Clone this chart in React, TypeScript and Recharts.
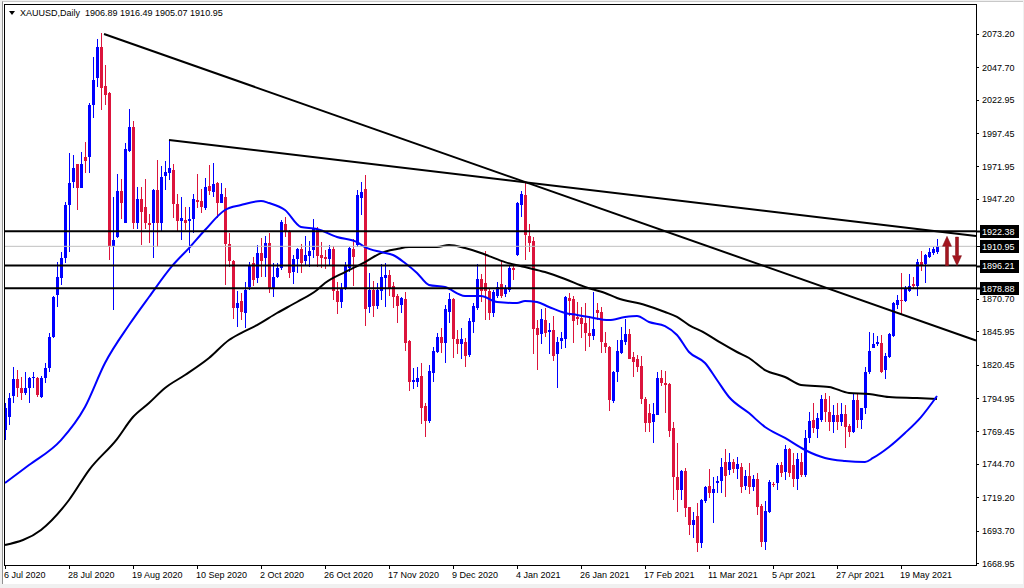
import {
  Bar,
  ComposedChart,
  Line,
  ReferenceLine,
  XAxis,
  YAxis,
} from 'recharts';

const BULL = '#0000ff';
const BEAR = '#dc143c';
const FONT = '"Liberation Sans", Arial, sans-serif';

// daily candles, bar 0 = 6 Jul 2020
const opens = [
  1770.6, 1780.8, 1796.6, 1809.3, 1802.5, 1798.6, 1802.5, 1810.1, 1810.1, 1796.1,
  1810.1, 1817.7, 1842.0, 1873.8, 1886.5, 1901.8, 1942.5, 1960.4, 1973.6, 1955.8,
  1979.5, 1979.5, 2019.0, 2039.3, 2063.5, 2033.5, 2028.4, 1911.2, 1917.8, 1953.2,
  1929.0, 1984.1, 2001.9, 1929.0, 1947.1, 1940.8, 1929.0, 1929.0, 1954.0, 1929.0,
  1965.0, 1967.2, 1969.3, 1943.1, 1930.3, 1931.1, 1930.3, 1931.6, 1946.4, 1945.9,
  1940.5, 1957.0, 1952.7, 1959.1, 1944.3, 1948.9, 1912.5, 1899.7, 1863.6, 1869.2,
  1860.3, 1880.1, 1897.9, 1886.5, 1905.6, 1901.8, 1913.2, 1878.9, 1887.8, 1894.1,
  1927.8, 1922.7, 1891.6, 1901.3, 1908.9, 1899.7, 1903.6, 1908.1, 1924.2, 1904.3,
  1903.0, 1901.3, 1908.6, 1877.1, 1868.2, 1879.4, 1894.6, 1908.9, 1912.0, 1948.1,
  1954.7, 1864.3, 1877.6, 1865.3, 1876.8, 1887.0, 1889.0, 1880.6, 1873.2, 1866.1,
  1870.4, 1838.6, 1807.5, 1807.5, 1811.9, 1789.0, 1777.7, 1814.4, 1829.9, 1841.4,
  1837.3, 1861.0, 1870.4, 1840.1, 1836.3, 1837.6, 1827.9, 1853.4, 1863.6, 1885.7,
  1882.7, 1877.1, 1859.8, 1873.0, 1881.9, 1874.5, 1877.6, 1894.6, 1904.3, 1942.5,
  1950.2, 1918.8, 1915.3, 1848.3, 1843.9, 1854.7, 1845.7, 1847.0, 1828.7, 1838.9,
  1840.1, 1871.2, 1870.7, 1857.2, 1856.4, 1852.1, 1845.0, 1842.7, 1862.3, 1860.5,
  1837.3, 1834.3, 1793.0, 1815.2, 1829.2, 1838.1, 1843.9, 1826.1, 1824.9, 1819.5,
  1794.3, 1783.3, 1776.5, 1782.1, 1810.6, 1806.8, 1805.5, 1771.9, 1734.4, 1724.7,
  1739.3, 1711.5, 1698.0, 1704.9, 1684.0, 1716.4, 1727.8, 1722.7, 1729.9, 1731.9,
  1746.4, 1740.0, 1746.4, 1741.0, 1742.6, 1727.8, 1735.5, 1727.3, 1732.9, 1712.5,
  1685.3, 1708.2, 1729.1, 1729.8, 1743.8, 1738.8, 1755.8, 1743.8, 1732.9, 1746.4,
  1736.2, 1764.2, 1778.3, 1771.1, 1778.3, 1794.0, 1784.4, 1776.9, 1782.1, 1776.9,
  1782.8, 1773.7, 1769.3, 1793.5, 1778.3, 1787.2, 1815.2, 1833.5, 1836.3, 1836.8,
  1816.5, 1826.6, 1842.4, 1866.1, 1869.9, 1869.4, 1877.1, 1882.2, 1880.9, 1899.2,
  1897.5, 1903.0, 1906.1, 1906.89,
];

const highs = [
  1791.0, 1798.6, 1819.0, 1816.5, 1811.4, 1815.2, 1811.4, 1815.2, 1811.4, 1812.0,
  1821.6, 1844.5, 1873.0, 1899.2, 1906.9, 1945.1, 1982.0, 1980.8, 1974.0, 1983.3,
  1991.0, 2020.2, 2055.9, 2069.1, 2074.2, 2049.5, 2029.1, 1948.9, 1966.2, 1962.4,
  1989.7, 2015.6, 2007.0, 1956.5, 1956.5, 1962.4, 1935.4, 1954.5, 1976.9, 1972.3,
  1976.4, 1992.2, 1973.6, 1950.7, 1948.9, 1941.3, 1940.8, 1951.0, 1966.2, 1954.5,
  1962.9, 1973.1, 1974.4, 1960.4, 1959.1, 1955.8, 1920.9, 1900.5, 1877.1, 1875.0,
  1883.9, 1899.2, 1902.6, 1912.0, 1917.1, 1918.8, 1920.9, 1897.9, 1898.5, 1931.1,
  1933.6, 1923.4, 1904.3, 1909.9, 1912.7, 1918.8, 1915.3, 1931.8, 1926.0, 1914.5,
  1908.1, 1912.0, 1911.2, 1883.9, 1882.7, 1899.2, 1910.7, 1916.3, 1954.0, 1959.8,
  1965.4, 1890.3, 1884.5, 1882.7, 1897.2, 1898.5, 1892.9, 1883.9, 1874.5, 1872.5,
  1876.3, 1839.4, 1817.7, 1819.0, 1821.5, 1791.0, 1820.3, 1834.3, 1844.9, 1848.3,
  1866.1, 1875.5, 1871.2, 1847.0, 1848.3, 1840.6, 1856.0, 1867.9, 1897.2, 1889.8,
  1907.6, 1878.8, 1877.6, 1883.4, 1900.5, 1881.4, 1896.7, 1896.7, 1945.1, 1953.5,
  1960.4, 1928.0, 1917.8, 1854.7, 1862.8, 1863.8, 1852.1, 1857.7, 1841.9, 1845.2,
  1873.0, 1875.0, 1873.2, 1868.2, 1864.3, 1867.9, 1857.7, 1875.8, 1867.4, 1864.8,
  1845.2, 1835.0, 1816.0, 1839.4, 1849.6, 1855.4, 1847.5, 1830.5, 1827.9, 1827.4,
  1796.1, 1790.5, 1791.0, 1815.2, 1816.5, 1815.7, 1806.3, 1776.5, 1760.4, 1740.0,
  1741.3, 1712.0, 1708.2, 1714.6, 1717.6, 1727.8, 1740.5, 1734.9, 1735.4, 1748.9,
  1755.8, 1752.8, 1748.2, 1750.0, 1745.6, 1740.0, 1745.6, 1736.0, 1737.5, 1714.0,
  1716.6, 1732.4, 1731.1, 1745.6, 1746.4, 1759.1, 1756.6, 1752.8, 1752.8, 1752.8,
  1770.6, 1784.6, 1791.0, 1783.3, 1797.3, 1798.6, 1796.6, 1789.7, 1791.0, 1791.0,
  1789.7, 1775.2, 1799.1, 1798.6, 1787.7, 1819.0, 1845.7, 1844.5, 1842.4, 1843.2,
  1829.7, 1844.5, 1868.7, 1873.8, 1890.8, 1880.6, 1889.8, 1887.3, 1901.0, 1907.6,
  1904.8, 1909.4, 1910.2, 1916.49,
];

const lows = [
  1763.0, 1774.4, 1791.0, 1796.1, 1793.5, 1797.4, 1791.0, 1802.5, 1796.1, 1795.0,
  1806.3, 1815.2, 1841.0, 1864.8, 1881.4, 1898.0, 1906.9, 1955.3, 1938.7, 1955.3,
  1966.7, 1966.7, 2008.8, 2033.0, 2015.1, 2019.0, 1900.5, 1862.3, 1917.1, 1931.6,
  1928.5, 1983.3, 1924.2, 1924.2, 1912.0, 1924.0, 1913.3, 1902.3, 1910.7, 1922.7,
  1954.0, 1961.6, 1932.4, 1922.2, 1915.8, 1923.4, 1906.1, 1920.9, 1940.0, 1936.7,
  1938.7, 1950.2, 1948.9, 1932.4, 1943.8, 1881.4, 1895.4, 1855.2, 1849.0, 1854.7,
  1848.3, 1877.6, 1880.6, 1882.7, 1887.3, 1887.3, 1875.0, 1872.5, 1886.5, 1892.9,
  1918.3, 1886.5, 1882.2, 1890.3, 1890.8, 1896.7, 1894.9, 1901.8, 1894.9, 1894.1,
  1893.6, 1896.7, 1870.0, 1859.2, 1863.6, 1877.6, 1891.6, 1880.6, 1910.7, 1934.9,
  1850.3, 1860.3, 1857.2, 1862.8, 1870.0, 1864.3, 1873.0, 1863.6, 1852.6, 1860.3,
  1831.0, 1800.7, 1801.7, 1803.2, 1775.2, 1765.0, 1776.2, 1807.5, 1829.2, 1829.7,
  1822.0, 1852.6, 1825.4, 1828.7, 1824.6, 1819.0, 1826.1, 1845.0, 1862.3, 1868.7,
  1854.7, 1854.7, 1857.2, 1871.2, 1871.2, 1872.5, 1876.3, 1885.2, 1903.6, 1933.6,
  1900.5, 1906.9, 1828.7, 1816.5, 1836.3, 1841.9, 1828.7, 1823.6, 1803.0, 1832.5,
  1833.0, 1857.7, 1837.3, 1850.8, 1840.6, 1831.2, 1834.3, 1839.4, 1854.7, 1829.7,
  1829.7, 1785.4, 1791.5, 1807.5, 1828.7, 1835.6, 1824.6, 1810.9, 1815.2, 1790.5,
  1769.3, 1768.8, 1760.9, 1782.1, 1804.2, 1783.8, 1765.5, 1717.1, 1708.2, 1717.1,
  1704.4, 1690.4, 1687.8, 1677.6, 1680.2, 1714.6, 1718.4, 1699.8, 1722.2, 1722.2,
  1719.7, 1736.2, 1737.5, 1733.0, 1722.2, 1725.0, 1721.7, 1724.0, 1705.6, 1681.0,
  1678.9, 1706.9, 1727.3, 1724.7, 1734.9, 1732.4, 1734.9, 1727.3, 1724.7, 1734.9,
  1734.9, 1760.4, 1768.0, 1764.2, 1777.0, 1777.0, 1770.1, 1768.1, 1770.6, 1773.7,
  1756.6, 1765.5, 1768.0, 1771.9, 1771.1, 1782.8, 1813.1, 1833.0, 1834.8, 1813.9,
  1809.3, 1825.4, 1841.9, 1862.8, 1858.5, 1868.7, 1876.3, 1879.4, 1873.0, 1892.4,
  1882.7, 1901.8, 1904.3, 1905.07,
];

const closes = [
  1787.2, 1794.8, 1809.3, 1802.5, 1798.6, 1802.5, 1810.1, 1811.4, 1797.4, 1810.1,
  1817.7, 1842.0, 1872.5, 1887.8, 1901.8, 1942.5, 1959.1, 1970.6, 1955.8, 1973.6,
  1976.4, 2019.0, 2038.1, 2063.5, 2031.7, 2026.6, 1911.2, 1915.8, 1953.2, 1943.8,
  1985.3, 2001.9, 1929.0, 1947.1, 1937.4, 1928.5, 1927.3, 1954.0, 1929.0, 1964.2,
  1968.0, 1971.1, 1943.1, 1930.3, 1932.4, 1928.5, 1931.6, 1946.9, 1945.1, 1941.3,
  1956.0, 1953.2, 1958.6, 1944.3, 1950.9, 1912.5, 1899.7, 1863.6, 1867.9, 1861.0,
  1877.6, 1896.7, 1885.2, 1905.6, 1899.7, 1913.2, 1878.1, 1887.3, 1894.1, 1929.8,
  1922.7, 1890.8, 1901.3, 1908.9, 1898.5, 1904.3, 1907.4, 1924.2, 1903.6, 1902.3,
  1901.3, 1908.6, 1877.1, 1868.2, 1879.4, 1896.2, 1909.4, 1903.0, 1950.2, 1952.7,
  1863.0, 1877.6, 1865.3, 1877.6, 1887.8, 1889.0, 1878.9, 1872.0, 1865.6, 1871.2,
  1837.3, 1807.5, 1808.8, 1810.6, 1787.2, 1777.7, 1815.9, 1831.0, 1841.4, 1837.3,
  1862.8, 1870.4, 1840.1, 1836.3, 1840.1, 1827.4, 1854.2, 1865.3, 1885.7, 1876.8,
  1877.1, 1859.8, 1876.3, 1880.1, 1873.0, 1878.9, 1894.6, 1892.9, 1943.8, 1950.9,
  1919.6, 1913.7, 1847.5, 1843.2, 1855.2, 1844.5, 1847.0, 1827.1, 1837.6, 1840.6,
  1872.0, 1869.2, 1854.2, 1855.4, 1851.6, 1844.5, 1842.7, 1847.5, 1860.3, 1838.1,
  1834.3, 1793.5, 1815.2, 1831.0, 1839.4, 1843.7, 1824.9, 1822.3, 1819.0, 1794.3,
  1776.2, 1776.2, 1782.8, 1810.1, 1806.3, 1805.0, 1770.1, 1734.9, 1724.7, 1739.3,
  1711.3, 1698.0, 1701.8, 1684.0, 1717.1, 1727.3, 1722.7, 1725.5, 1731.9, 1742.1,
  1735.5, 1746.4, 1740.5, 1744.5, 1727.3, 1735.5, 1727.3, 1732.9, 1712.0, 1685.3,
  1708.7, 1731.1, 1728.6, 1743.8, 1738.0, 1755.8, 1738.0, 1732.9, 1748.4, 1736.2,
  1764.2, 1777.5, 1771.9, 1780.0, 1794.0, 1784.6, 1776.9, 1782.1, 1776.9, 1782.8,
  1772.6, 1769.3, 1793.5, 1778.3, 1787.2, 1815.2, 1831.0, 1836.3, 1837.6, 1815.2,
  1827.1, 1843.7, 1867.4, 1869.9, 1869.4, 1878.3, 1880.6, 1880.9, 1899.2, 1896.7,
  1904.3, 1906.9, 1908.6, 1910.95,
];

// moving averages read at sample bars: [bar, price]
const ma50Points: [number, number][] = [
  [0, 1730.1], [6, 1743.8], [14, 1762.9], [20, 1788.2], [25, 1821.8], [31, 1850.8],
  [36, 1872.2], [42, 1896.7], [46, 1909.6], [50, 1923.4], [55, 1938.7], [59, 1942.5],
  [64, 1945.6], [66, 1944.0], [70, 1938.7], [74, 1925.7], [78, 1924.2], [83, 1918.1],
  [88, 1914.2], [90, 1910.4], [94, 1906.6], [97, 1904.3], [100, 1898.2], [103, 1890.6],
  [106, 1881.4], [110, 1879.8], [115, 1873.0], [119, 1873.0], [123, 1868.4], [128, 1867.6],
  [130, 1869.2], [133, 1868.4], [136, 1864.6], [140, 1860.0], [143, 1858.5], [146, 1856.9],
  [151, 1854.6], [155, 1856.9], [158, 1857.7], [161, 1853.1], [165, 1850.0], [168, 1843.2],
  [171, 1830.2], [175, 1821.8], [178, 1808.8], [181, 1795.8], [186, 1783.5], [190, 1772.9],
  [195, 1764.5], [200, 1755.3], [205, 1749.2], [210, 1746.9], [215, 1746.1], [217, 1749.2],
  [221, 1757.6], [225, 1768.3], [229, 1780.5], [233, 1796.6],
];

const ma200Points: [number, number][] = [
  [0, 1682.7], [9, 1694.2], [16, 1717.1], [21, 1740.0], [28, 1763.7], [32, 1780.5],
  [36, 1791.2], [40, 1802.7], [45, 1812.6], [51, 1825.6], [56, 1839.4], [59, 1844.7],
  [63, 1850.8], [68, 1860.0], [73, 1868.4], [78, 1877.6], [80, 1882.9], [85, 1891.3],
  [90, 1898.9], [94, 1905.8], [98, 1908.9], [101, 1910.4], [108, 1910.4], [111, 1912.0],
  [115, 1909.6], [119, 1905.8], [121, 1903.5], [125, 1898.9], [130, 1895.1], [135, 1891.3],
  [140, 1886.0], [145, 1879.9], [150, 1875.3], [153, 1871.5], [160, 1866.1], [165, 1860.8],
  [168, 1857.0], [171, 1850.8], [175, 1844.7], [179, 1837.1], [183, 1830.2], [186, 1825.6],
  [190, 1816.4], [195, 1811.1], [199, 1805.0], [206, 1803.5], [211, 1798.9], [216, 1798.1],
  [221, 1795.8], [228, 1795.0], [233, 1794.3],
];

const dateTicks = [0, 16, 32, 48, 64, 80, 96, 112, 128, 144, 160, 176, 192, 208, 224];
const dateLabels = [
  '6 Jul 2020', '28 Jul 2020', '19 Aug 2020', '10 Sep 2020', '2 Oct 2020',
  '26 Oct 2020', '17 Nov 2020', '9 Dec 2020', '4 Jan 2021', '26 Jan 2021',
  '17 Feb 2021', '11 Mar 2021', '5 Apr 2021', '27 Apr 2021', '19 May 2021',
];

const priceTicks = [
  2073.2, 2047.7, 2022.95, 1997.45, 1971.95, 1947.2, 1870.7, 1845.95, 1820.45,
  1794.95, 1769.45, 1744.7, 1719.2, 1693.7, 1668.95,
];
const levels = [1922.38, 1896.21, 1878.88];
const lastPrice = 1910.95;
const boxedTicks = [...levels, lastPrice];

// trend lines: [startBar, startPrice, endBar, endPrice]
const trendLines: [number, number, number, number][] = [
  [24.75, 2073.2, 242.75, 1839.0],
  [41, 1992.2, 242.75, 1918.9],
];

// signal arrows: [bar, fromPrice, toPrice]
const arrows: [number, number, number][] = [
  [235.5, 1896.2, 1918.6],
  [238, 1918.0, 1896.2],
];

const header = 'XAUUSD,Daily  1906.89 1916.49 1905.07 1910.95';

const ma50Map = new Map(ma50Points);
const ma200Map = new Map(ma200Points);

const chartData = opens.map((o, i) => ({
  i,
  o,
  h: highs[i],
  l: lows[i],
  c: closes[i],
  ma50: ma50Map.get(i) ?? null,
  ma200: ma200Map.get(i) ?? null,
}));

function Candle(props: any) {
  const { x, y, width, height, payload } = props;
  if (!payload || x == null) return null;
  const cx = Math.round(x + width / 2);
  const top = Math.min(y, y + height);
  const span = Math.abs(height);
  const { o, h, l, c } = payload;
  const k = h - l > 0 ? span / (h - l) : 0;
  const yO = top + (h - o) * k;
  const yC = top + (h - c) * k;
  const color = c >= o ? BULL : BEAR;
  const wTop = Math.round(top);
  const wBot = Math.round(top + span);
  const bTop = Math.round(Math.min(yO, yC));
  const bBot = Math.max(bTop + 1, Math.round(Math.max(yO, yC)));
  return (
    <g>
      <rect x={cx} y={wTop} width={1} height={Math.max(1, wBot - wTop)} fill={color} />
      <rect x={cx - 1} y={bTop} width={3} height={bBot - bTop} fill={color} />
    </g>
  );
}

function DateTick(props: any) {
  const { x, y, payload } = props;
  const idx = dateTicks.indexOf(payload.value);
  const px = Math.round(x);
  return (
    <g>
      <line x1={px + 0.5} x2={px + 0.5} y1={y - 6} y2={y - 2} stroke="#000" strokeWidth={1} />
      <text x={px - 1} y={y + 7} textAnchor="start" fontSize={9} fontFamily={FONT} fill="#000">
        {dateLabels[idx]}
      </text>
    </g>
  );
}

function PriceTick(props: any) {
  const { x, y, payload } = props;
  const v = payload.value as number;
  const boxed = boxedTicks.includes(v);
  const py = Math.round(y) + 0.5;
  if (boxed) {
    return (
      <g>
        <line x1={x - 6} x2={x - 1} y1={py} y2={py} stroke="#000" strokeWidth={v === lastPrice ? 1 : 2} />
        <rect x={x - 2} y={Math.round(y) - 6} width={39} height={13} fill="#000" />
        <text x={x} y={y + 3.5} textAnchor="start" fontSize={9} fontFamily={FONT} fill="#fff">
          {v.toFixed(2)}
        </text>
      </g>
    );
  }
  return (
    <g>
      <line x1={x - 6} x2={x - 3} y1={py} y2={py} stroke="#000" strokeWidth={1} />
      <text x={x} y={y + 3.5} textAnchor="start" fontSize={9} fontFamily={FONT} fill="#000">
        {v.toFixed(2)}
      </text>
    </g>
  );
}

function ArrowShape(props: any) {
  const { x1, y1, y2 } = props;
  if (x1 == null) return null;
  const dir = y2 < y1 ? -1 : 1;
  const headLen = 10;
  const hw = 4.5;
  const sw = 1.5;
  const baseY = y2 - dir * headLen;
  const pts = [
    [x1 - sw, y1],
    [x1 + sw, y1],
    [x1 + sw, baseY],
    [x1 + hw, baseY],
    [x1, y2],
    [x1 - hw, baseY],
    [x1 - sw, baseY],
  ]
    .map((p) => p.join(','))
    .join(' ');
  return <polygon points={pts} fill="#a3161f" stroke="#7d0f16" strokeWidth={0.5} />;
}

export default function App() {
  return (
    <div
      style={{
        position: 'absolute',
        left: 0,
        top: 0,
        width: 1024,
        height: 588,
        background: '#f0f0f0',
        overflow: 'hidden',
      }}
    >
      <div
        style={{
          position: 'absolute',
          left: 2,
          top: 1,
          width: 1020,
          height: 582,
          background: '#fff',
          borderLeft: '1px solid #909090',
          borderTop: '1px solid #c8c8c8',
        }}
      />
      <div style={{ position: 'absolute', left: 0, top: 0 }}>
        <ComposedChart
          width={1024}
          height={588}
          data={chartData}
          margin={{ top: 5, right: 0, bottom: 0, left: 4 }}
        >
          <XAxis
            dataKey="i"
            type="number"
            domain={[-0.25, 242.75]}
            allowDataOverflow
            ticks={dateTicks}
            interval={0}
            height={23}
            axisLine={false}
            tickLine={false}
            tickSize={4}
            tickMargin={2}
            tick={<DateTick />}
          />
          <YAxis
            orientation="right"
            type="number"
            domain={[1667.43, 2095.36]}
            allowDataOverflow
            ticks={[...priceTicks, ...boxedTicks]}
            interval={0}
            width={48}
            axisLine={false}
            tickLine={false}
            tickSize={3}
            tickMargin={3}
            tick={<PriceTick />}
          />
          <Bar
            dataKey={(d: any) => [d.l, d.h]}
            barSize={3}
            shape={<Candle />}
            isAnimationActive={false}
          />
          <Line
            dataKey="ma200"
            type="monotone"
            stroke="#000"
            strokeWidth={2}
            dot={false}
            connectNulls
            isAnimationActive={false}
          />
          <Line
            dataKey="ma50"
            type="monotone"
            stroke="#0000ff"
            strokeWidth={2}
            dot={false}
            connectNulls
            isAnimationActive={false}
          />
          <ReferenceLine y={lastPrice} stroke="#c0c0c0" strokeWidth={1} />
          {levels.map((lv) => (
            <ReferenceLine key={lv} y={lv} stroke="#000" strokeWidth={2} />
          ))}
          {trendLines.map(([x1, y1, x2, y2], k) => (
            <ReferenceLine
              key={`t${k}`}
              segment={[
                { x: x1, y: y1 },
                { x: x2, y: y2 },
              ]}
              stroke="#000"
              strokeWidth={2}
            />
          ))}
          {arrows.map(([bx, from, to], k) => (
            <ReferenceLine
              key={`a${k}`}
              segment={[
                { x: bx, y: from },
                { x: bx, y: to },
              ]}
              shape={(p: any) => <ArrowShape {...p} />}
            />
          ))}
        </ComposedChart>
      </div>
      <div
        style={{
          position: 'absolute',
          left: 4,
          top: 4,
          width: 971,
          height: 560,
          border: '1px solid #000',
          pointerEvents: 'none',
        }}
      />
      <div
        style={{
          position: 'absolute',
          left: 9,
          top: 11,
          width: 0,
          height: 0,
          borderLeft: '3px solid transparent',
          borderRight: '3px solid transparent',
          borderTop: '4px solid #000',
        }}
      />
      <div
        style={{
          position: 'absolute',
          left: 20,
          top: 8,
          fontFamily: FONT,
          fontSize: 9,
          lineHeight: '10px',
          whiteSpace: 'pre',
          color: '#000',
        }}
      >
        {header}
      </div>
    </div>
  );
}
